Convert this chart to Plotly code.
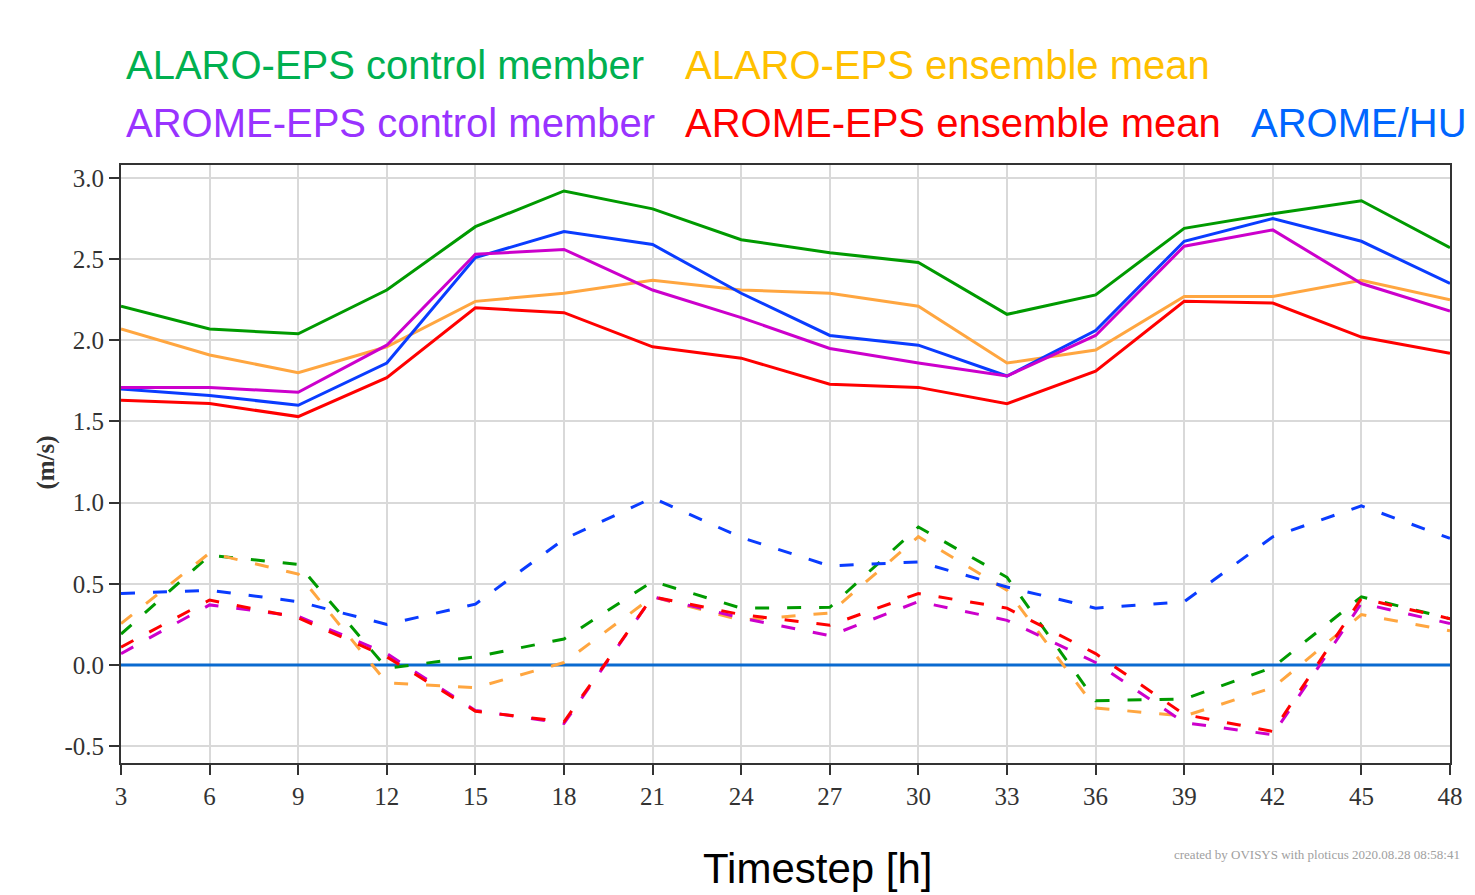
import plotly.graph_objects as go

steps = [3, 6, 9, 12, 15, 18, 21, 24, 27, 30, 33, 36, 39, 42, 45, 48]

# solid lines (RMSE-like)
alaro_ctrl = [2.21, 2.07, 2.04, 2.31, 2.70, 2.92, 2.81, 2.62, 2.54, 2.48, 2.16, 2.28, 2.69, 2.78, 2.86, 2.57]
alaro_mean = [2.07, 1.91, 1.80, 1.96, 2.24, 2.29, 2.37, 2.31, 2.29, 2.21, 1.86, 1.94, 2.27, 2.27, 2.37, 2.25]
arome_hu = [1.70, 1.66, 1.60, 1.86, 2.51, 2.67, 2.59, 2.29, 2.03, 1.97, 1.78, 2.06, 2.61, 2.75, 2.61, 2.35]
arome_ctrl = [1.71, 1.71, 1.68, 1.97, 2.53, 2.56, 2.31, 2.14, 1.95, 1.86, 1.78, 2.03, 2.58, 2.68, 2.35, 2.18]
arome_mean = [1.63, 1.61, 1.53, 1.77, 2.20, 2.17, 1.96, 1.89, 1.73, 1.71, 1.61, 1.81, 2.24, 2.23, 2.02, 1.92]

# dashed lines (bias-like)
alaro_ctrl_b = [0.19, 0.675, 0.62, -0.02, 0.05, 0.16, 0.515, 0.35, 0.355, 0.85, 0.54, -0.22, -0.21, -0.015, 0.42, 0.285]
alaro_mean_b = [0.255, 0.69, 0.56, -0.11, -0.14, 0.015, 0.42, 0.275, 0.32, 0.79, 0.46, -0.265, -0.315, -0.14, 0.31, 0.21]
arome_hu_b = [0.44, 0.46, 0.39, 0.25, 0.375, 0.775, 1.03, 0.785, 0.61, 0.635, 0.48, 0.35, 0.39, 0.79, 0.98, 0.78]
arome_ctrl_b = [0.07, 0.37, 0.30, 0.07, -0.28, -0.36, 0.42, 0.29, 0.18, 0.39, 0.275, 0.015, -0.355, -0.43, 0.38, 0.255]
arome_mean_b = [0.11, 0.40, 0.29, 0.05, -0.285, -0.35, 0.42, 0.31, 0.245, 0.44, 0.35, 0.07, -0.305, -0.41, 0.41, 0.285]

zero_line = [0.0] * len(steps)

C_GREEN = "#009a00"
C_ORANGE = "#ffa640"
C_BLUE = "#0a3cff"
C_MAG = "#cc00cc"
C_RED = "#ff0000"

fig = go.Figure()

def add(y, color, dash):
    fig.add_trace(go.Scatter(
        x=steps, y=y, mode="lines",
        line=dict(color=color, width=3, dash="14px,18px" if dash else "solid"),
        showlegend=False, hoverinfo="skip"))

add(zero_line, "#0a6ad0", False)
add(alaro_ctrl_b, C_GREEN, True)
add(alaro_mean_b, C_ORANGE, True)
add(arome_hu_b, C_BLUE, True)
add(arome_ctrl_b, C_MAG, True)
add(arome_mean_b, C_RED, True)
add(alaro_mean, C_ORANGE, False)
add(alaro_ctrl, C_GREEN, False)
add(arome_hu, C_BLUE, False)
add(arome_ctrl, C_MAG, False)
add(arome_mean, C_RED, False)

PL, PR, PT, PB = 121, 1460, 165, 763

def px(xp):
    return (xp - PL) / (PR - PL)

def py(yp):
    return (PB - yp) / (PB - PT)

legend_font = "Liberation Sans, Arial, sans-serif"
legend_items = [
    ("ALARO-EPS control member", "#00b050", 124, 89),
    ("ALARO-EPS ensemble mean", "#ffc000", 687, 89),
    ("AROME-EPS control member", "#9933ff", 124, 147),
    ("AROME-EPS ensemble mean", "#ff0000", 687, 147),
    ("AROME/HU", "#0066ff", 1257, 147),
]
for text, col, xp, yp in legend_items:
    fig.add_annotation(text=text, xref="paper", yref="paper",
                       x=px(xp), y=py(yp),
                       xanchor="left", yanchor="bottom", showarrow=False,
                       font=dict(family=legend_font, size=40, color=col))

fig.add_annotation(text="Timestep [h]", xref="paper", yref="paper",
                   x=px(823), y=py(843), xanchor="center", yanchor="top",
                   showarrow=False,
                   font=dict(family=legend_font, size=42, color="#000000"))

fig.add_annotation(text="<b>(m/s)</b>", xref="paper", yref="paper",
                   x=px(45), y=py(463), xanchor="center", yanchor="middle",
                   textangle=-90, showarrow=False,
                   font=dict(family="Liberation Serif, serif", size=25, color="#333333"))

fig.add_annotation(text="created by OVISYS with ploticus 2020.08.28 08:58:41",
                   xref="paper", yref="paper",
                   x=px(1180), y=py(864),
                   xanchor="left", yanchor="bottom", showarrow=False,
                   font=dict(family="Liberation Serif, serif", size=13, color="#a0a0a0"))

fig.update_layout(
    width=1475, height=895,
    margin=dict(l=PL, r=1475 - PR, t=PT, b=895 - PB),
    paper_bgcolor="white", plot_bgcolor="white",
    font=dict(family="Liberation Serif, serif", size=22, color="#333333"),
    xaxis=dict(
        range=[3, 48], tickmode="array", tickvals=steps, ticktext=[str(s) for s in steps],
        showgrid=True, gridcolor="#d9d9d9", gridwidth=2,
        showline=True, linecolor="#333333", linewidth=2, mirror=True,
        ticks="outside", ticklen=10, tickwidth=2, tickcolor="#333333",
        zeroline=False,
        tickfont=dict(family="Liberation Serif, serif", size=25, color="#333333"),
    ),
    yaxis=dict(
        range=[-0.604, 3.08], tickmode="array",
        tickvals=[-0.5, 0.0, 0.5, 1.0, 1.5, 2.0, 2.5, 3.0],
        ticktext=["-0.5", "0.0", "0.5", "1.0", "1.5", "2.0", "2.5", "3.0"],
        showgrid=True, gridcolor="#d9d9d9", gridwidth=2,
        showline=True, linecolor="#333333", linewidth=2, mirror=True,
        ticks="outside", ticklen=10, tickwidth=2, tickcolor="#333333",
        zeroline=False,
        tickfont=dict(family="Liberation Serif, serif", size=25, color="#333333"),
    ),
)

fig.write_html("out.html")
